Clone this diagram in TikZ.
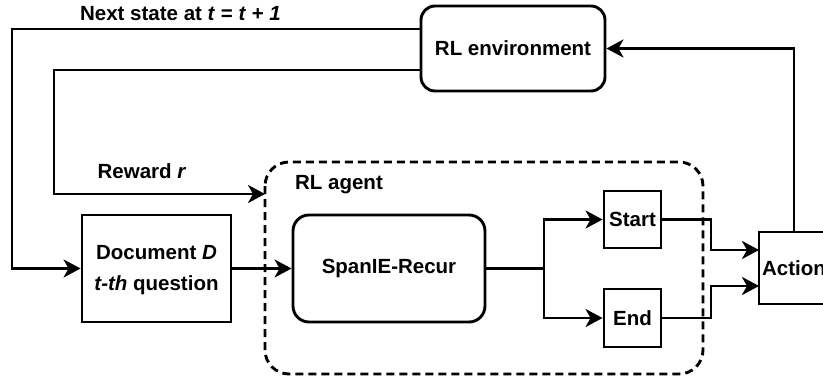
\documentclass[tikz,border=0pt]{standalone}
\usepackage{fontspec}
\setmainfont{Liberation Sans}
\usetikzlibrary{arrows.meta,calc}
\begin{document}
\begin{tikzpicture}[x=1pt,y=-1pt,
  every node/.style={font=\fontsize{20.5}{31}\selectfont\bfseries, inner sep=0pt},
  boxsq/.style={draw, line width=2.9pt, align=center},
  boxrd/.style={draw, line width=2.9pt, rounded corners=14pt, align=center},
  conn/.style={line width=2.9pt},
  arr/.style={line width=2.9pt, -{Stealth[length=17pt,width=18pt,inset=5pt]}},
  lbl/.style={}]
\clip (0,0) rectangle (823,376);
\fill[white] (0,0) rectangle (823,376);
% dashed agent region
\draw[line width=2.9pt, dash pattern=on 8pt off 5pt, rounded corners=24pt] (265,162) rectangle (703,374);
\node[lbl] (agentlbl) at (339,185) {RL agent};
% nodes
\node[boxrd, minimum width=184pt, minimum height=85pt] (env) at (513,48.5) {RL environment};
\node[boxsq, minimum width=149pt, minimum height=107pt] (doc) at (156.5,268.5) {\rule{0pt}{18pt}Document \textit{D}\\\textit{t-th} question};
\node[boxrd, rounded corners=16pt, minimum width=192pt, minimum height=107pt] (span) at (389,268.5) {SpanIE-Recur};
\node[boxsq, minimum width=57pt, minimum height=57pt] (start) at (632.5,219.5) {Start};
\node[boxsq, minimum width=57pt, minimum height=58pt] (end) at (632.5,318) {End};
\node[boxsq, minimum width=70pt, minimum height=72pt] (action) at (794,268) {Action};
% labels
\node[lbl] (nextlbl) at (180.5,14) {Next state at \textit{t} = \textit{t} + \textit{1}};
\node[lbl] (rewlbl) at (142,171) {Reward \textit{r}};
% coordinates
\coordinate (o1) at (12,29);
\coordinate (o2) at (54,70);
\coordinate (rw) at (265,194);
\coordinate (jn) at (544,268.5);
\coordinate (k1) at (711,0);
\coordinate (a1) at (759,250);
\coordinate (a2) at (759,286);
% connectors
\draw[arr] (env.west |- o1) -- (o1) |- (doc.west);
\draw[arr] (env.west |- o2) -- (o2) |- (rw);
\draw[arr] (doc.east) -- (span.west);
\draw[conn] (span.east) -- (jn);
\draw[arr] (jn) |- (start.west);
\draw[arr] (jn) |- (end.west);
\draw[arr] (start.east) -- (start.east -| k1) |- (a1);
\draw[arr] (end.east) -- (end.east -| k1) |- (a2);
\draw[arr] (action.north) |- (env.east);
\end{tikzpicture}
\end{document}
